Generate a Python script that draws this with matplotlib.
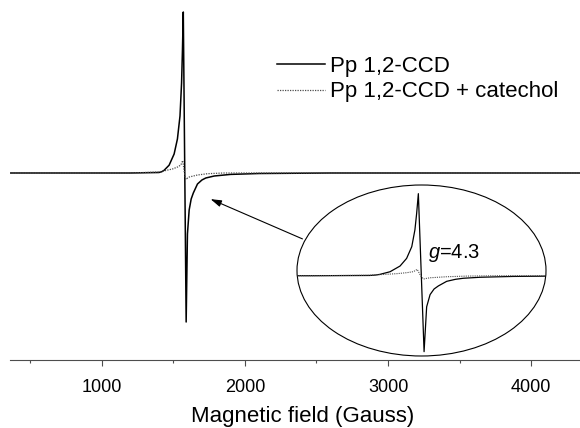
import matplotlib
matplotlib.use("Agg")
import matplotlib.pyplot as plt
from matplotlib.patches import Ellipse, FancyArrowPatch

plt.rcParams['font.family'] = ['Liberation Sans', 'DejaVu Sans']
plt.rcParams['mathtext.fontset'] = 'custom'
plt.rcParams['mathtext.rm'] = 'Liberation Sans'
plt.rcParams['mathtext.it'] = 'Liberation Sans:italic'

# EPR spectra (field in Gauss, intensity in arbitrary units)
field_ccd = [360, 800, 1200, 1400, 1420, 1436, 1471, 1506, 1529, 1547, 1558, 1564,
             1570, 1590, 1599, 1611, 1625, 1640, 1669, 1700, 1727, 1786, 1900,
             2100, 2600, 3200, 3800, 4340]
int_ccd = [0, 0, 0, 0.5, 1.3, 2.7, 7.8, 19, 34, 57, 90, 122,
           161, -149, -61, -37, -26, -20, -11, -7, -5, -3, -1.4,
           -0.5, 0, 0, 0, 0]

field_cat = [360, 1200, 1400, 1494, 1530, 1553, 1566, 1578, 1588, 1600, 1612,
             1640, 1669, 1739, 1850, 4340]
int_cat = [0, 0, 1, 4, 6, 8, 12.5, 0, -6.5, -5, -4, -3, -2, -0.7, 0, 0]

labels = ['Pp 1,2-CCD', 'Pp 1,2-CCD + catechol']
major_ticks = [1000, 2000, 3000, 4000]
minor_ticks = [500, 1500, 2500, 3500]

fig = plt.figure(figsize=(5.8, 4.28), dpi=100)
ax = fig.add_axes([10 / 580, 68 / 428, 570 / 580, 360 / 428])

l1, = ax.plot(field_ccd, int_ccd, color='black', lw=1.1)
l2, = ax.plot(field_cat, int_cat, color='0.3', lw=0.9, linestyle=(0, (1, 1)))

ax.set_xlim(360, 4340)
ax.set_ylim(-187, 173)
for s in ['left', 'right', 'top']:
    ax.spines[s].set_visible(False)
ax.spines['bottom'].set_linewidth(0.8)
ax.spines['bottom'].set_color('0.3')
ax.set_yticks([])
ax.set_xticks(major_ticks)
ax.set_xticks(minor_ticks, minor=True)
ax.tick_params(axis='x', which='major', length=4, width=0.8, color='0.3',
               labelsize=13, pad=10)
ax.tick_params(axis='x', which='minor', length=2.5, width=0.8, color='0.3')
ax.set_xlabel('Magnetic field (Gauss)', fontsize=16)
ax.xaxis.set_label_coords(0.513, -0.127)

ax.legend([l1, l2], labels, loc='upper left', frameon=False, fontsize=16,
          bbox_to_anchor=(277 / 580, 1 - 56 / 428), bbox_transform=fig.transFigure,
          borderpad=0, borderaxespad=0, handlelength=2.16, handletextpad=0.23,
          labelspacing=0.2)

# zoomed inset in an ellipse
ins = fig.add_axes([297 / 580, 72 / 428, 249 / 580, 171 / 428])
ins.set_axis_off()
ell = Ellipse((0.5, 0.5), 1, 1, transform=ins.transAxes, facecolor='white',
              edgecolor='black', lw=0.8, clip_on=False, zorder=0)
ins.add_patch(ell)
a1, = ins.plot(field_ccd, int_ccd, color='black', lw=0.9, zorder=2)
a2, = ins.plot(field_cat, int_cat, color='0.3', lw=0.8, linestyle=(0, (1, 1)), zorder=2)
a1.set_clip_path(ell)
a2.set_clip_path(ell)
ins.set_xlim(1146, 2016)
ins.set_ylim(-157.5, 178)

fig.text(428 / 580, 1 - 258 / 428, '$g$=4.3', fontsize=14.5, ha='left', va='baseline')

arrow = FancyArrowPatch((305 / 580, 1 - 240 / 428), (208 / 580, 1 - 198 / 428),
                        transform=fig.transFigure, arrowstyle='-|>,head_length=0.65,head_width=0.2',
                        mutation_scale=10, color='black', lw=0.8)
fig.patches.append(arrow)

fig.savefig('out.png', dpi=100)
